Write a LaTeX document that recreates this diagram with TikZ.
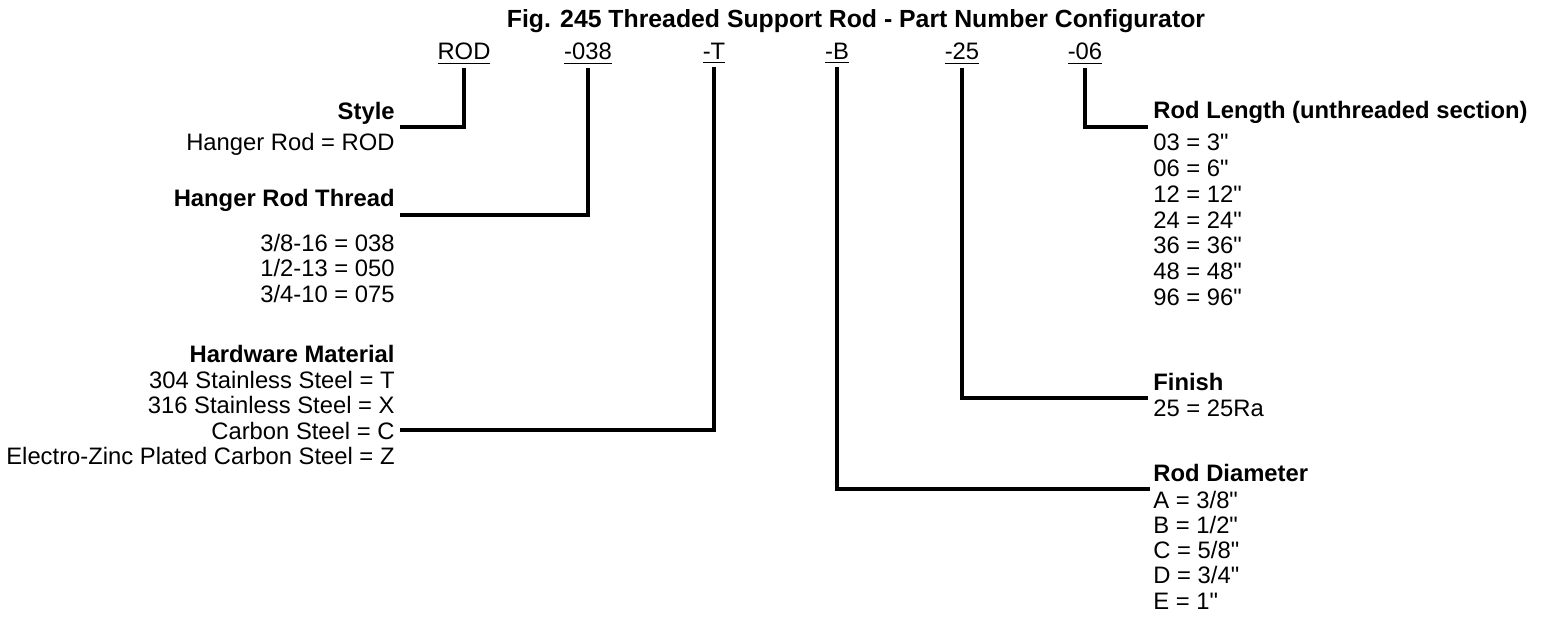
\documentclass[tikz,border=0pt]{standalone}
\usepackage{fontspec}
\setmainfont{Liberation Sans}[Ligatures=TeXOff]
\usepackage{tikz}

\begin{document}
\begin{tikzpicture}[x=0.5pt, y=-0.5pt, font=\fontsize{11.9}{12.8}\selectfont,
    code/.style = {anchor=base, inner sep=1.5pt},
    head/.style = {font=\fontsize{11.9}{12.8}\selectfont\bfseries, inner sep=0pt},
    item/.style = {inner sep=0pt},
    conn/.style = {line width=2.1pt, line join=miter}]
    \useasboundingbox (0,0) rectangle (1546,636);
    \node[head, anchor=base, font=\fontsize{12.4}{13}\selectfont\bfseries] (title) at (856,28) {Fig. 245 Threaded Support Rod - Part Number Configurator};
    % part number codes
    \node[code] (rod) at (464,60) {\underline{ROD}};
    \node[code] (thread) at (588,60) {\underline{-038}};
    \node[code] (mat) at (714,60) {\underline{-T}};
    \node[code] (dia) at (837,60) {\underline{-B}};
    \node[code] (fin) at (962,60) {\underline{-25}};
    \node[code] (len) at (1085,60) {\underline{-06}};
    % left side
    \node[head, anchor=base east] (style) at (395,120) {Style};
    \node[item, anchor=base east] (style1) at (395,151) {Hanger Rod = ROD};
    \node[head, anchor=base east] (thr) at (395,207) {Hanger Rod Thread};
    \foreach \t [count=\k] in {3/8-16 = 038, 1/2-13 = 050, 3/4-10 = 075}
        \node[item, anchor=base east] (thr\k) at (395,{251+25.6*(\k-1)}) {\t};
    \node[head, anchor=base east] (hw) at (395,362) {Hardware Material};
    \foreach \t [count=\k] in {304 Stainless Steel = T, 316 Stainless Steel = X,
        Carbon Steel = C, Electro-Zinc Plated Carbon Steel = Z}
        \node[item, anchor=base east] (hw\k) at (395,{388+25.5*(\k-1)}) {\t};
    % right side
    \node[head, anchor=base west] (rl) at (1153,119) {Rod Length (unthreaded section)};
    \foreach \t [count=\k] in {03 = 3", 06 = 6", 12 = 12", 24 = 24", 36 = 36", 48 = 48", 96 = 96"}
        \node[item, anchor=base west] (rl\k) at (1153,{151+25.7*(\k-1)}) {\t};
    \node[head, anchor=base west] (fn) at (1153,390) {Finish};
    \node[item, anchor=base west] (fn1) at (1153,416) {25 = 25Ra};
    \node[head, anchor=base west] (rd) at (1153,481) {Rod Diameter};
    \foreach \t [count=\k] in {A = 3/8", B = 1/2", C = 5/8", D = 3/4", E = 1"}
        \node[item, anchor=base west] (rd\k) at (1153,{508+25.3*(\k-1)}) {\t};
    % connector ends
    \coordinate (styleend) at (400,127);
    \coordinate (thrend) at (400,215);
    \coordinate (hwend) at (400,430);
    \coordinate (rlend) at (1148,127);
    \coordinate (fnend) at (1148,398);
    \coordinate (rdend) at (1150,489);
    \draw[conn] (rod.south) |- (styleend);
    \draw[conn] (thread.south) |- (thrend);
    \draw[conn] (mat.south) |- (hwend);
    \draw[conn] (dia.south) |- (rdend);
    \draw[conn] (fin.south) |- (fnend);
    \draw[conn] (len.south) |- (rlend);
\end{tikzpicture}
\end{document}
